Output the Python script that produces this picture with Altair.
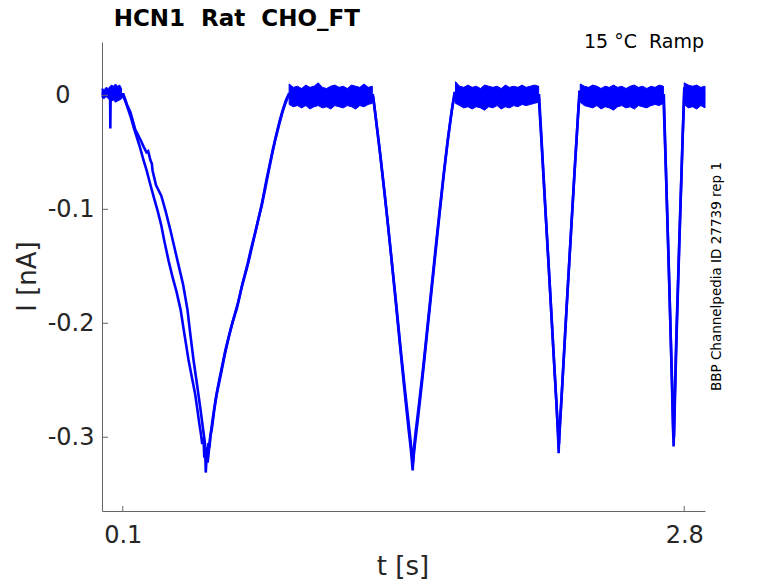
import altair as alt
import pandas as pd

# ---------------- data ----------------
# sweep A (left descending trace of the first ramp)
a_t = [0.000, 0.015, 0.030, 0.039, 0.040, 0.0415, 0.060, 0.080, 0.094,
       0.110, 0.127, 0.140, 0.152, 0.166, 0.180, 0.200, 0.215, 0.232, 0.250,
       0.267, 0.285, 0.300, 0.320, 0.340, 0.358, 0.378, 0.395, 0.416, 0.435,
       0.448, 0.459, 0.468, 0.475, 0.482, 0.488, 0.492, 0.496, 0.499, 0.503,
       0.507, 0.512, 0.517, 0.522, 0.530, 0.546, 0.560, 0.575, 0.594, 0.620,
       0.640, 0.657, 0.680, 0.700, 0.715, 0.740, 0.758, 0.772, 0.790, 0.805,
       0.821, 0.840, 0.855, 0.869, 0.885, 0.898, 1.100, 1.300,
       1.305, 1.320, 1.340, 1.360, 1.380, 1.400, 1.420, 1.440, 1.460, 1.475,
       1.485, 1.490, 1.494, 1.498, 1.505, 1.520, 1.540, 1.560, 1.580, 1.600,
       1.620, 1.640, 1.660, 1.680, 1.695, 1.900, 2.100,
       2.110, 2.130, 2.150, 2.170, 2.185, 2.193, 2.196, 2.199, 2.210, 2.230,
       2.250, 2.270, 2.285, 2.296, 2.500, 2.700,
       2.710, 2.725, 2.740, 2.746, 2.749, 2.752, 2.760, 2.775, 2.790, 2.800,
       2.850, 2.900]
a_i = [0.001, 0.002, 0.001, 0.000, -0.029, -0.003, 0.002, 0.002, 0.001,
       -0.004, -0.013, -0.020, -0.028, -0.036, -0.044, -0.057, -0.066, -0.078, -0.090,
       -0.101, -0.114, -0.128, -0.145, -0.160, -0.172, -0.188, -0.208, -0.232, -0.250,
       -0.262, -0.276, -0.288, -0.296, -0.306, -0.300, -0.318, -0.310, -0.331, -0.318,
       -0.322, -0.305, -0.309, -0.298, -0.287, -0.267, -0.253, -0.240, -0.223, -0.204,
       -0.191, -0.180, -0.162, -0.148, -0.136, -0.118, -0.104, -0.092, -0.075, -0.062,
       -0.048, -0.033, -0.022, -0.013, -0.004, 0.001, -0.001, 0.000,
       -0.002, -0.025, -0.055, -0.087, -0.122, -0.158, -0.195, -0.232, -0.268, -0.294,
       -0.310, -0.320, -0.329, -0.318, -0.306, -0.283, -0.250, -0.215, -0.180, -0.145,
       -0.110, -0.076, -0.044, -0.016, 0.002, -0.001, 0.000,
       -0.030, -0.093, -0.155, -0.220, -0.268, -0.296, -0.314, -0.298, -0.265, -0.200,
       -0.137, -0.075, -0.030, 0.003, -0.001, 0.000,
       -0.055, -0.145, -0.245, -0.290, -0.308, -0.285, -0.225, -0.135, -0.050, 0.005,
       0.000, 0.000]

# sweep B (right descending trace of the first ramp)
b_t = [0.000, 0.050, 0.103, 0.120, 0.137, 0.160, 0.185, 0.200, 0.214, 0.222,
       0.233, 0.240, 0.243, 0.260, 0.285, 0.305, 0.330, 0.363, 0.390, 0.411,
       0.425, 0.440, 0.458, 0.474, 0.484, 0.493, 0.500, 0.504, 0.508, 0.514,
       0.520, 0.528, 0.540, 0.552, 0.566, 0.590, 0.610, 0.630, 0.650, 0.672,
       0.695, 0.710, 0.730, 0.750, 0.768, 0.785, 0.800, 0.818, 0.832, 0.850,
       0.866, 0.880, 0.895, 1.100, 1.303,
       1.315, 1.335, 1.355, 1.375, 1.395, 1.415, 1.435, 1.455, 1.472, 1.484,
       1.491, 1.496, 1.500, 1.508, 1.525, 1.545, 1.565, 1.585, 1.605, 1.625,
       1.645, 1.665, 1.685, 1.698, 1.900, 2.102,
       2.115, 2.135, 2.155, 2.172, 2.186, 2.194, 2.198, 2.203, 2.215, 2.235,
       2.255, 2.275, 2.290, 2.298, 2.500, 2.702,
       2.713, 2.728, 2.742, 2.748, 2.751, 2.756, 2.765, 2.780, 2.793, 2.801,
       2.900]
b_i = [0.000, 0.001, 0.001, -0.008, -0.015, -0.030, -0.039, -0.045, -0.050, -0.049,
       -0.057, -0.060, -0.066, -0.079, -0.088, -0.101, -0.119, -0.145, -0.166, -0.188,
       -0.210, -0.232, -0.255, -0.276, -0.290, -0.302, -0.314, -0.309, -0.322, -0.312,
       -0.300, -0.293, -0.276, -0.262, -0.250, -0.228, -0.212, -0.198, -0.186, -0.168,
       -0.153, -0.142, -0.126, -0.110, -0.097, -0.082, -0.068, -0.052, -0.040, -0.027,
       -0.016, -0.008, -0.001, 0.000, 0.000,
       -0.017, -0.047, -0.080, -0.113, -0.148, -0.183, -0.220, -0.255, -0.283, -0.303,
       -0.317, -0.322, -0.310, -0.296, -0.270, -0.238, -0.203, -0.168, -0.133, -0.099,
       -0.066, -0.036, -0.010, 0.002, 0.000, 0.000,
       -0.042, -0.108, -0.172, -0.228, -0.272, -0.300, -0.306, -0.288, -0.250, -0.185,
       -0.122, -0.060, -0.016, 0.003, 0.000, 0.000,
       -0.070, -0.165, -0.255, -0.298, -0.300, -0.262, -0.200, -0.110, -0.035, 0.006,
       0.000]

# noise envelope of the holding segments (upper / lower edge)
s0_t = [0.000, 0.010, 0.020, 0.030, 0.045, 0.055, 0.065, 0.075, 0.085, 0.094]
s0_hi = [0.006, 0.005, 0.007, 0.006, 0.009, 0.008, 0.010, 0.008, 0.009, 0.006]
s0_lo = [-0.002, -0.003, -0.001, -0.003, -0.005, -0.004, -0.006, -0.005, -0.004, -0.003]

s1_t = [0.90, 0.92, 0.94, 0.96, 0.98, 1.00, 1.02, 1.04, 1.06, 1.08, 1.10,
        1.12, 1.14, 1.16, 1.18, 1.20, 1.22, 1.24, 1.26, 1.28, 1.30]
s1_hi = [0.010, 0.007, 0.008, 0.006, 0.009, 0.007, 0.008, 0.011, 0.007, 0.006, 0.008,
         0.009, 0.007, 0.008, 0.006, 0.009, 0.008, 0.007, 0.010, 0.007, 0.008]
s1_lo = [-0.008, -0.010, -0.009, -0.011, -0.009, -0.012, -0.010, -0.009, -0.011, -0.010, -0.012,
         -0.009, -0.010, -0.011, -0.009, -0.010, -0.012, -0.009, -0.010, -0.008, -0.007]

s2_t = [1.70, 1.72, 1.74, 1.76, 1.78, 1.80, 1.82, 1.84, 1.86, 1.88, 1.90,
        1.92, 1.94, 1.96, 1.98, 2.00, 2.02, 2.04, 2.06, 2.08, 2.10]
s2_hi = [0.012, 0.008, 0.007, 0.009, 0.007, 0.008, 0.006, 0.009, 0.008, 0.007, 0.008,
         0.006, 0.009, 0.007, 0.008, 0.007, 0.009, 0.007, 0.008, 0.009, 0.008]
s2_lo = [-0.007, -0.009, -0.011, -0.010, -0.012, -0.010, -0.011, -0.013, -0.010, -0.011, -0.009,
         -0.012, -0.010, -0.011, -0.009, -0.010, -0.008, -0.009, -0.008, -0.007, -0.006]

s3_t = [2.30, 2.32, 2.34, 2.36, 2.38, 2.40, 2.42, 2.44, 2.46, 2.48, 2.50,
        2.52, 2.54, 2.56, 2.58, 2.60, 2.62, 2.64, 2.66, 2.68, 2.70]
s3_hi = [0.010, 0.008, 0.007, 0.009, 0.008, 0.006, 0.008, 0.007, 0.009, 0.007, 0.008,
         0.006, 0.008, 0.009, 0.007, 0.008, 0.006, 0.008, 0.007, 0.009, 0.008]
s3_lo = [-0.006, -0.009, -0.010, -0.011, -0.009, -0.012, -0.010, -0.011, -0.013, -0.010, -0.009,
         -0.011, -0.010, -0.012, -0.009, -0.010, -0.011, -0.009, -0.008, -0.009, -0.007]

s4_t = [2.80, 2.82, 2.84, 2.86, 2.88, 2.90]
s4_hi = [0.011, 0.009, 0.008, 0.009, 0.007, 0.008]
s4_lo = [-0.008, -0.011, -0.010, -0.012, -0.009, -0.011]

x_ticks = [0.1, 2.8]
y_ticks = [0.0, -0.1, -0.2, -0.3]

title_text = "HCN1\u00a0\u00a0Rat\u00a0\u00a0CHO_FT"
cond_text = "15 \u00b0C\u00a0\u00a0Ramp"
side_text = "BBP Channelpedia ID 27739 rep 1"
x_title = "t [s]"
y_title = "I [nA]"

# ---------------- build tables ----------------
sweeps = pd.concat([
    pd.DataFrame({"t": a_t, "i": a_i, "sweep": "A", "k": range(len(a_t))}),
    pd.DataFrame({"t": b_t, "i": b_i, "sweep": "B", "k": range(len(b_t))}),
])
env = pd.concat([
    pd.DataFrame({"t": s0_t, "hi": s0_hi, "lo": s0_lo, "seg": "s0"}),
    pd.DataFrame({"t": s1_t, "hi": s1_hi, "lo": s1_lo, "seg": "s1"}),
    pd.DataFrame({"t": s2_t, "hi": s2_hi, "lo": s2_lo, "seg": "s2"}),
    pd.DataFrame({"t": s3_t, "hi": s3_hi, "lo": s3_lo, "seg": "s3"}),
    pd.DataFrame({"t": s4_t, "hi": s4_hi, "lo": s4_lo, "seg": "s4"}),
])

BLUE = "#0000ff"
FONT = "DejaVu Sans"
W, H = 603, 469

xs = alt.Scale(domain=[0, 2.9], nice=False, zero=False)
ys = alt.Scale(domain=[-0.3647, 0.0468], nice=False, zero=False)

x_axis = alt.Axis(values=x_ticks, title=None, labelExpr="format(datum.value, '.1f')",
                  labelFont=FONT, labelFontSize=24, labelColor="#262626",
                  labelPadding=12, ticks=False, tickSize=0, grid=False,
                  domainColor="#666666", domainWidth=1, labelFlush=False,
                  labelOverlap=False)
y_axis = alt.Axis(values=y_ticks, title=None, labelExpr="'' + datum.value",
                  labelFont=FONT, labelFontSize=24, labelColor="#262626",
                  labelPadding={"condition": {"test": "datum.value == 0", "value": 32}, "value": 8},
                  ticks=False, tickSize=0, grid=False,
                  domainColor="#666666", domainWidth=1, labelFlush=False,
                  labelOverlap=False)

band = alt.Chart(env).mark_area(color=BLUE, opacity=1, stroke=BLUE, strokeWidth=1).encode(
    x=alt.X("t:Q", scale=xs, axis=x_axis),
    y=alt.Y("hi:Q", scale=ys, axis=y_axis),
    y2="lo:Q",
    detail="seg:N",
)

lines = alt.Chart(sweeps).mark_line(color=BLUE, strokeWidth=2.6).encode(
    x=alt.X("t:Q", scale=xs, axis=x_axis),
    y=alt.Y("i:Q", scale=ys, axis=y_axis),
    detail="sweep:N",
    order="k:Q",
)

xt = alt.Chart(pd.DataFrame({"t": x_ticks})).mark_rule(color="#666666", strokeWidth=1).encode(
    x=alt.X("t:Q", scale=xs, axis=x_axis),
    y=alt.value(H),
    y2=alt.value(H - 5),
)
yt = alt.Chart(pd.DataFrame({"i": y_ticks})).mark_rule(color="#666666", strokeWidth=1).encode(
    y=alt.Y("i:Q", scale=ys, axis=y_axis),
    x=alt.value(0),
    x2=alt.value(6),
)


def label(text, x, y, **kw):
    return alt.Chart(pd.DataFrame({"label": [text]})).mark_text(font=FONT, **kw).encode(
        text="label:N", x=alt.value(x), y=alt.value(y))


t_title = label(title_text, 11.7, -16, fontSize=23, fontWeight="bold", align="left",
                baseline="alphabetic", color="black")
t_cond = label(cond_text, 602, 5.5, fontSize=19, align="right", baseline="alphabetic",
               color="black")
t_side = label(side_text, 615, 234.5, fontSize=13.5, angle=270, align="center",
               baseline="middle", color="black")
t_y = label(y_title, -74, 234.5, fontSize=26, angle=270, align="center",
            baseline="middle", color="#262626")
t_x = label(x_title, 301, 525, fontSize=26, align="center", baseline="middle",
            color="#262626")

chart = alt.layer(band, lines, xt, yt, t_title, t_cond, t_side, t_y, t_x).properties(
    width=W, height=H,
    autosize=alt.AutoSizeParams(type="none"),
    padding={"left": 94, "top": 34, "right": 40, "bottom": 70},
).configure_view(stroke=None)

chart.save("out.html", embed_options={"renderer": "svg", "actions": False})
